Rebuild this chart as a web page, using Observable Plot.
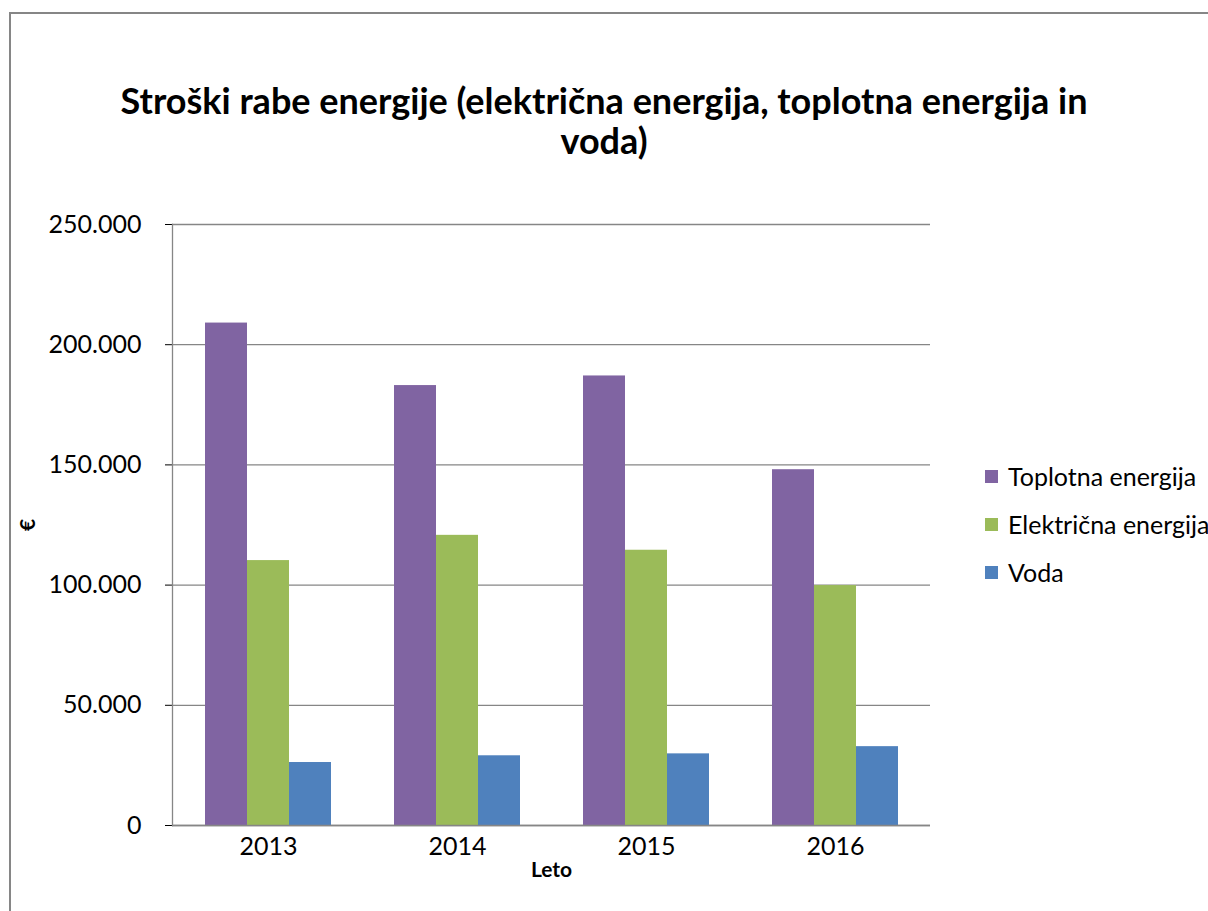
<!DOCTYPE html>
<html><head><meta charset="utf-8">
<script src="https://cdn.jsdelivr.net/npm/d3@7"></script>
<script src="https://cdn.jsdelivr.net/npm/@observablehq/plot@0.6"></script>
<style>
body{margin:0;background:#fff;font-family:Lato,"Open Sans",sans-serif;}
#wrap{position:relative;width:1208px;height:911px;overflow:hidden;background:#fff;}
#border{position:absolute;left:9px;top:12px;width:1300px;height:1000px;border:2px solid #868686;}
#title{position:absolute;left:0;width:1208px;top:80px;text-align:center;font-weight:bold;font-size:36px;line-height:40px;color:#000;}
#chart{position:absolute;left:0;top:0;}
#legend{position:absolute;left:985px;top:452px;font-size:25px;color:#000;white-space:nowrap;}
.item{display:flex;align-items:center;height:48px;white-space:nowrap;}
.sw{width:13px;height:13px;margin-right:10px;flex:none;}
g[aria-label="y-axis label"] text, g[aria-label="x-axis label"] text{font-weight:bold;font-size:21px;}
</style>
</head><body>
<div id="wrap">
  <div id="border"></div>
  <div id="title">Stroški rabe energije (električna energija, toplotna energija in<br>voda)</div>
  <div id="chart"></div>
  <div id="legend"></div>
</div>
<script>
const years = ["2013", "2014", "2015", "2016"];
const seriesNames = ["Toplotna energija", "Električna energija", "Voda"];
const toplotna = [209000, 183000, 187000, 148000];
const elektricna = [110200, 120700, 114500, 99800];
const voda = [26200, 29000, 29800, 32800];
const colors = ["#8064A2", "#9BBB59", "#4F81BD"];
const yTicks = [0, 50000, 100000, 150000, 200000, 250000];

const seriesValues = [toplotna, elektricna, voda];
const barW = 42;

const barMarks = seriesValues.map((vals, i) =>
  Plot.barY(years.map((y, j) => ({year: y, value: vals[j], series: seriesNames[i]})), {
    x: "year", y: "value", fill: colors[i],
    insetLeft: barW * i, insetRight: barW * (2 - i)
  })
);

const fmt = d => d3.format(",")(d).replace(/,/g, ".");

const chart = Plot.plot({
  width: 1208, height: 911,
  marginLeft: 172, marginRight: 278, marginTop: 224, marginBottom: 86,
  style: {fontFamily: "Lato, 'Open Sans', sans-serif", fontSize: "25px", color: "#000", background: "transparent"},
  x: {domain: years, paddingInner: 0.335, paddingOuter: 0.1675, tickSize: 0, tickPadding: 12,
      label: "Leto", labelAnchor: "center", labelOffset: 51, labelArrow: false},
  y: {domain: [0, 250000], ticks: yTicks, tickFormat: fmt, tickSize: 7, tickPadding: 24,
      label: "€", labelAnchor: "center", labelOffset: 152, labelArrow: false},
  marks: [
    Plot.ruleY(yTicks, {stroke: "#868686", strokeWidth: 1.3}),
    Plot.frame({anchor: "left", stroke: "#868686", strokeWidth: 1.3}),
    ...barMarks,
    Plot.ruleY([0], {stroke: "#868686", strokeWidth: 1.5})
  ]
});
// ensure the axis labels carry no arrow glyphs
chart.querySelectorAll('g[aria-label="y-axis label"] text').forEach(t => { t.textContent = "€"; });
chart.querySelectorAll('g[aria-label="x-axis label"] text').forEach(t => { t.textContent = "Leto"; });
document.getElementById("chart").appendChild(chart);

const legend = document.getElementById("legend");
seriesNames.forEach((name, i) => {
  const it = document.createElement("div");
  it.className = "item";
  const sw = document.createElement("div");
  sw.className = "sw";
  sw.style.background = colors[i];
  const tx = document.createElement("span");
  tx.textContent = name;
  it.appendChild(sw); it.appendChild(tx);
  legend.appendChild(it);
});
</script>
</body></html>
